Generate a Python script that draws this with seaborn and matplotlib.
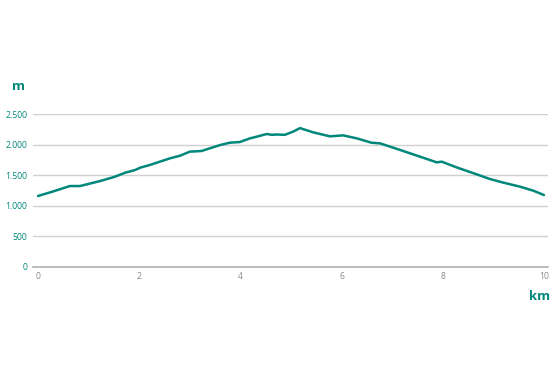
import numpy as np
import pandas as pd
import matplotlib
matplotlib.use("Agg")
import matplotlib.pyplot as plt
from matplotlib.ticker import FuncFormatter
import seaborn as sns

# ======== DATA ========
distance_km = [0.0, 0.3, 0.63, 0.83, 1.23, 1.52, 1.72, 1.92, 2.02, 2.21, 2.61, 2.81,
               3.0, 3.23, 3.6, 3.79, 3.99, 4.19, 4.32, 4.52, 4.62, 4.72, 4.88,
               5.05, 5.18, 5.25, 5.44, 5.77, 6.03, 6.3, 6.59, 6.76, 6.96, 7.22,
               7.55, 7.88, 7.98, 8.27, 8.67, 8.93, 9.2, 9.53, 9.79, 10.0]
elevation_m = [1160, 1235, 1323, 1323, 1405, 1475, 1540, 1585, 1623, 1667, 1776, 1819,
               1885, 1895, 1993, 2031, 2042, 2102, 2129, 2173, 2160, 2165, 2160,
               2215, 2270, 2250, 2200, 2135, 2151, 2102, 2031, 2020, 1966, 1895,
               1803, 1710, 1721, 1629, 1514, 1438, 1378, 1312, 1247, 1176]
x_ticks = [0, 2, 4, 6, 8, 10]
y_ticks = [0, 500, 1000, 1500, 2000, 2500]

df = pd.DataFrame({"km": distance_km, "m": elevation_m})

TEAL = "#00877c"

# ======== PLOT ========
sns.set_style("white")
plt.rcParams["font.family"] = ["Open Sans", "DejaVu Sans"]

fig = plt.figure(figsize=(5.54, 3.69), dpi=100)
ax = fig.add_axes([33 / 554, (369 - 267) / 369, (548 - 33) / 554, (267 - 114) / 369])

sns.lineplot(data=df, x="km", y="m", ax=ax, color=TEAL, linewidth=1.8)

ax.set_xlim(-0.099, 10.08)
ax.set_ylim(0, 2500)
ax.set_xticks(x_ticks)
ax.set_yticks(y_ticks)
ax.yaxis.set_major_formatter(FuncFormatter(lambda v, p: f"{int(v):,}".replace(",", ".")))
ax.grid(axis="y", color="#d0d0d0", linewidth=1)
ax.set_axisbelow(True)
for side in ["top", "right", "left"]:
    ax.spines[side].set_visible(False)
ax.spines["bottom"].set_color("#b0b0b0")
ax.spines["bottom"].set_linewidth(1.2)

ax.tick_params(axis="x", length=0, pad=3.5, labelsize=6.2, labelcolor="#8a8a8a")
ax.tick_params(axis="y", length=0, pad=4, labelsize=6.2, labelcolor=TEAL)
ax.set_xlabel("")
ax.set_ylabel("")

fig.text(12 / 554, 1 - 87 / 369, "m", color=TEAL, fontsize=9.5, fontweight="bold",
         ha="left", va="center")
fig.text(550 / 554, 1 - 297 / 369, "km", color=TEAL, fontsize=9.5, fontweight="bold",
         ha="right", va="center")

fig.savefig("out.png", dpi=100)
